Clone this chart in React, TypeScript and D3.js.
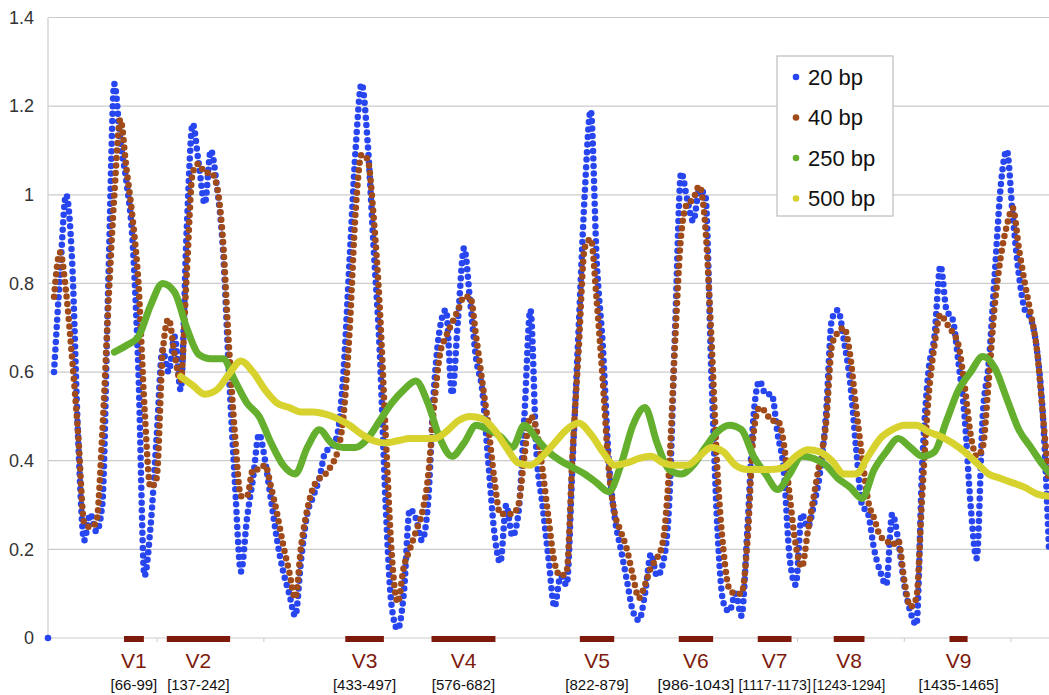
import React from 'react';
import * as d3 from 'd3';

// y ticks and the unlabeled tick marks on the position axis
const yTicks = [0, 0.2, 0.4, 0.6, 0.8, 1, 1.2, 1.4];
const xTicks = [121, 298, 475, 652, 829, 1006, 1183, 1360, 1537];

// variable regions of the 16S gene
const regions = [
  { name: 'V1', start: 66, end: 99 },
  { name: 'V2', start: 137, end: 242 },
  { name: 'V3', start: 433, end: 497 },
  { name: 'V4', start: 576, end: 682 },
  { name: 'V5', start: 822, end: 879 },
  { name: 'V6', start: 986, end: 1043 },
  { name: 'V7', start: 1117, end: 1173 },
  { name: 'V8', start: 1243, end: 1294 },
  { name: 'V9', start: 1435, end: 1465 },
];

const seriesNames = ['20 bp', '40 bp', '250 bp', '500 bp'];
const seriesColors = ['#2846f0', '#a04b19', '#64af2d', '#d7d22d'];

// window 20 bp, first value at position -50, one value every 10 positions
const blue20Start = -50;
const blue20Step = 10;
const blue20 = [
  0.6, 0.82, 1.0, 0.85, 0.45, 0.22, 0.28, 0.24, 0.3, 0.8,
  1.25, 1.12, 1.03, 0.9, 0.6, 0.14, 0.25, 0.45, 0.65, 0.6,
  0.68, 0.56, 0.92, 1.16, 1.07, 0.98, 1.1, 1.02, 0.88, 0.6,
  0.35, 0.15, 0.27, 0.36, 0.46, 0.4, 0.31, 0.22, 0.15, 0.1,
  0.05, 0.18, 0.28, 0.32, 0.36, 0.42, 0.43, 0.46, 0.6, 0.85,
  1.1, 1.25, 1.12, 0.88, 0.65, 0.3, 0.07, 0.02, 0.1, 0.29,
  0.27, 0.22, 0.3, 0.56, 0.7, 0.74, 0.55, 0.72, 0.88, 0.76,
  0.63, 0.56, 0.4, 0.24, 0.17, 0.3, 0.23, 0.28, 0.5, 0.74,
  0.42, 0.3, 0.18, 0.07, 0.14, 0.12, 0.4, 0.7, 1.0, 1.19,
  0.85, 0.66, 0.4, 0.27, 0.2, 0.13, 0.06, 0.04, 0.1, 0.19,
  0.14, 0.17, 0.3, 0.7, 1.05, 0.99, 0.94, 1.01, 1.0, 0.6,
  0.25, 0.08, 0.06, 0.1, 0.05, 0.25, 0.5, 0.58, 0.55, 0.55,
  0.46, 0.38, 0.18, 0.12, 0.28, 0.25, 0.3, 0.37, 0.5, 0.72,
  0.74, 0.67, 0.58, 0.43, 0.3, 0.28, 0.2, 0.15, 0.12, 0.28,
  0.22, 0.12, 0.06, 0.03, 0.4, 0.6, 0.68, 0.84, 0.74, 0.72,
  0.62, 0.5, 0.3, 0.18, 0.5, 0.62, 0.82, 1.02, 1.1, 0.95,
  0.82, 0.74, 0.72, 0.65, 0.5, 0.2,
];
// the lone first point of the 20 bp series
const blue20First = { pos: -60, value: 0 };

// window 40 bp, same grid as 20 bp
const brown40Start = -50;
const brown40Step = 10;
const brown40 = [
  0.77, 0.87, 0.78, 0.63, 0.46, 0.26, 0.25, 0.26, 0.46, 0.75,
  1.0, 1.17, 1.06, 0.95, 0.8, 0.52, 0.34, 0.36, 0.64, 0.72,
  0.64, 0.58, 0.82, 1.05, 1.07, 1.05, 1.05, 1.02, 0.9, 0.66,
  0.46, 0.32, 0.32, 0.38, 0.38, 0.39, 0.34, 0.28, 0.21, 0.15,
  0.09, 0.21, 0.29, 0.34, 0.36, 0.37, 0.39, 0.42, 0.5, 0.69,
  0.96, 1.09, 1.08, 0.95, 0.75, 0.46, 0.19, 0.08, 0.16, 0.2,
  0.24, 0.28, 0.36, 0.52, 0.64, 0.68, 0.71, 0.74, 0.77, 0.77,
  0.68, 0.58, 0.48, 0.36, 0.28, 0.28, 0.28, 0.3, 0.41, 0.5,
  0.47, 0.38, 0.27, 0.17, 0.14, 0.15, 0.42, 0.65, 0.88, 0.9,
  0.76, 0.58, 0.38, 0.28, 0.24, 0.2, 0.14, 0.09, 0.12, 0.16,
  0.18, 0.22, 0.38, 0.67, 0.91, 0.98, 0.99, 1.02, 0.93, 0.68,
  0.38, 0.2, 0.11, 0.1, 0.1, 0.22, 0.46, 0.52, 0.51, 0.49,
  0.49, 0.44, 0.32, 0.21, 0.16, 0.24, 0.32, 0.4, 0.48, 0.66,
  0.69, 0.7, 0.64, 0.52, 0.41, 0.31, 0.27, 0.23, 0.22, 0.21,
  0.22, 0.13, 0.07, 0.09, 0.33, 0.54, 0.66, 0.73, 0.71, 0.69,
  0.66, 0.57, 0.46, 0.41, 0.43, 0.58, 0.75, 0.86, 0.93, 0.97,
  0.88, 0.8, 0.73, 0.65, 0.5, 0.35,
];

// window 250 bp, from position 50 every 20
const green250Start = 50;
const green250Step = 20;
const green250 = [
  0.645, 0.66, 0.68, 0.75, 0.8, 0.78, 0.7, 0.64, 0.63, 0.63,
  0.58, 0.53, 0.5, 0.44, 0.39, 0.37, 0.43, 0.47, 0.44, 0.43,
  0.43, 0.45, 0.49, 0.53, 0.56, 0.58, 0.53, 0.45, 0.41, 0.44,
  0.48, 0.47, 0.455, 0.43, 0.48, 0.45, 0.42, 0.4, 0.385, 0.37,
  0.35, 0.33, 0.39, 0.48, 0.52, 0.44, 0.38, 0.37, 0.39, 0.43,
  0.465, 0.48, 0.47, 0.41, 0.37, 0.335, 0.37, 0.41, 0.405, 0.39,
  0.36, 0.34, 0.315, 0.38, 0.42, 0.45, 0.43, 0.41, 0.42, 0.49,
  0.56, 0.6, 0.635, 0.61, 0.54, 0.47, 0.43, 0.39, 0.36,
];

// window 500 bp, from position 160 every 20
const yellow500Start = 160;
const yellow500Step = 20;
const yellow500 = [
  0.59, 0.57, 0.55, 0.56, 0.595, 0.625, 0.6, 0.56, 0.53, 0.52,
  0.51, 0.51, 0.505, 0.495, 0.48, 0.46, 0.445, 0.44, 0.445, 0.45,
  0.45, 0.45, 0.465, 0.49, 0.5, 0.495, 0.47, 0.43, 0.395, 0.39,
  0.41, 0.44, 0.47, 0.485, 0.46, 0.42, 0.39, 0.395, 0.405, 0.41,
  0.395, 0.39, 0.39, 0.41, 0.43, 0.42, 0.39, 0.38, 0.38, 0.38,
  0.385, 0.41, 0.425, 0.42, 0.4, 0.37, 0.37, 0.41, 0.45, 0.47,
  0.48, 0.48, 0.465, 0.455, 0.44, 0.42, 0.395, 0.37, 0.36, 0.35,
  0.34, 0.325, 0.32,
];

const toPoints = (vals: number[], start: number, step: number): [number, number][] =>
  vals.map((v, i) => [start + i * step, v]);

export default function App() {
  const width = 1049;
  const height = 695;
  const left = 48;
  const right = 1049;
  const top = 17.5;
  const bottom = 638;

  const x = d3.scaleLinear().domain([-60, 1600]).range([left, right]);
  const y = d3.scaleLinear().domain([0, 1.4]).range([bottom, top]);

  const line = d3
    .line<[number, number]>()
    .x(d => x(d[0]))
    .y(d => y(d[1]))
    .curve(d3.curveMonotoneX);

  const font = '"Liberation Sans", Arial, sans-serif';
  const rangeSize = 15;

  // scatter series with very dense markers: drawn as a chain of round dots
  const dotted = (d: string | null, color: string) => (
    <path
      d={d || ''}
      fill="none"
      stroke={color}
      strokeWidth={6.5}
      strokeLinecap="round"
      strokeDasharray="0 7.5"
    />
  );

  const centers = regions.map(r => (x(r.start) + x(r.end)) / 2);

  return (
    <svg
      width={width}
      height={height}
      style={{ position: 'absolute', left: 0, top: 0, background: '#fff' }}
    >
      <defs>
        <clipPath id="plot">
          <rect x={left - 4} y={0} width={right - left + 4} height={bottom + 10} />
        </clipPath>
      </defs>

      {/* grid */}
      {yTicks.map(t => (
        <line key={t} x1={left} x2={right} y1={y(t)} y2={y(t)} stroke="#cbcbcb" strokeWidth={1.2} />
      ))}
      <line x1={left} x2={left} y1={top} y2={bottom} stroke="#cbcbcb" strokeWidth={1.2} />
      {xTicks.map(t => (
        <line key={t} x1={x(t)} x2={x(t)} y1={bottom} y2={bottom + 4} stroke="#cbcbcb" strokeWidth={1} />
      ))}
      {yTicks.map(t => (
        <text
          key={t}
          x={34}
          y={y(t)}
          dy="0.35em"
          textAnchor="end"
          fontFamily={font}
          fontSize={18}
          fill="#333"
        >
          {String(t)}
        </text>
      ))}

      {/* series */}
      <g clipPath="url(#plot)">
        <circle cx={x(blue20First.pos)} cy={y(blue20First.value)} r={3.3} fill={seriesColors[0]} />
        {dotted(line(toPoints(blue20, blue20Start, blue20Step)), seriesColors[0])}
        {dotted(line(toPoints(brown40, brown40Start, brown40Step)), seriesColors[1])}
        <path
          d={line(toPoints(green250, green250Start, green250Step)) || ''}
          fill="none"
          stroke={seriesColors[2]}
          strokeWidth={7}
          strokeLinejoin="round"
          strokeLinecap="round"
        />
        <path
          d={line(toPoints(yellow500, yellow500Start, yellow500Step)) || ''}
          fill="none"
          stroke={seriesColors[3]}
          strokeWidth={7}
          strokeLinejoin="round"
          strokeLinecap="round"
        />
      </g>

      {/* variable regions */}
      {regions.map((r, i) => {
        const cx = centers[i];
        const label = `[${r.start}-${r.end}]`;
        // rough width of the label, squeezed where neighbours are close
        const natural = label.length * 0.53 * rangeSize;
        const gapL = i > 0 ? cx - centers[i - 1] : 200;
        const gapR = i < regions.length - 1 ? centers[i + 1] - cx : 200;
        const room = Math.min(gapL, gapR) - 2;
        const squeeze = natural > room ? room : undefined;
        return (
          <g key={r.name}>
            <rect x={x(r.start)} y={bottom - 2} width={x(r.end) - x(r.start)} height={6} fill="#7d1a0c" />
            <text x={cx} y={668} textAnchor="middle" fontFamily={font} fontSize={21} fill="#7d1a0c">
              {r.name}
            </text>
            <text
              x={cx}
              y={690}
              textAnchor="middle"
              fontFamily={font}
              fontSize={rangeSize}
              fill="#111"
              textLength={squeeze}
              lengthAdjust={squeeze ? 'spacingAndGlyphs' : undefined}
            >
              {label}
            </text>
          </g>
        );
      })}

      {/* legend */}
      <g>
        <rect x={777} y={56} width={116} height={160} fill="#fff" stroke="#bdbdbd" strokeWidth={1.2} />
        {seriesNames.map((n, i) => (
          <g key={n} transform={`translate(796, ${77 + i * 40.5})`}>
            <circle r={3.3} fill={seriesColors[i]} />
            <text x={12} dy="0.35em" fontFamily={font} fontSize={22} fill="#111">
              {n}
            </text>
          </g>
        ))}
      </g>
    </svg>
  );
}
